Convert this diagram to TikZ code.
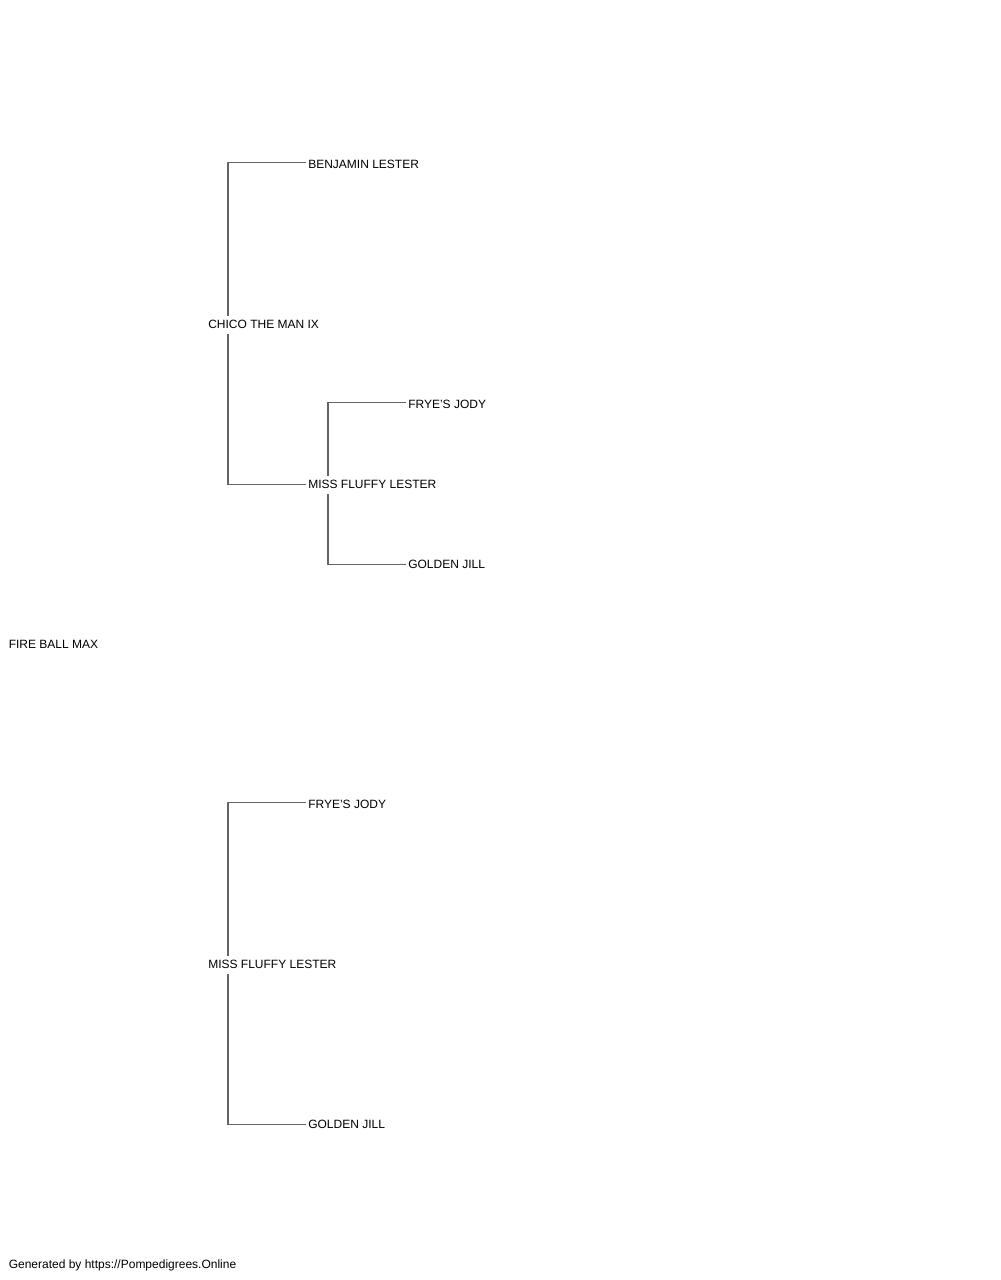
\documentclass[tikz,border=0pt]{standalone}
\usepackage{fontspec}
\setmainfont{Liberation Sans}
\begin{document}
\begin{tikzpicture}[x=0.75pt,y=-0.75pt,
  lbl/.style={anchor=west,inner xsep=1.5pt,inner ysep=0pt,text height=6.45pt,text depth=0pt,font=\fontsize{9pt}{11pt}\selectfont},
  conn/.style={draw={rgb,255:red,100;green,100;blue,100},line width=1.1pt}]
\useasboundingbox (0,0) rectangle (1000,1280);
\node[lbl] (fbm) at (6.5,644) {FIRE BALL MAX};
\node[lbl] (chico) at (206,324) {CHICO THE MAN IX};
\node[lbl] (benj) at (306,164) {BENJAMIN LESTER};
\node[lbl] (mfa) at (306,484) {MISS FLUFFY LESTER};
\node[lbl] (fja) at (406,404) {FRYE'S JODY};
\node[lbl] (gja) at (406,564) {GOLDEN JILL};
\node[lbl] (mfb) at (206,964) {MISS FLUFFY LESTER};
\node[lbl] (fjb) at (306,804) {FRYE'S JODY};
\node[lbl] (gjb) at (306,1124) {GOLDEN JILL};
\node[lbl] (foot) at (6.5,1264) {Generated by https://Pompedigrees.Online};
\draw[conn] ([shift={(22,-8)}]chico.west) |- ([yshift=1.3pt]benj.west);
\draw[conn] ([shift={(22,10)}]chico.west) |- ([yshift=-0.4pt]mfa.west);
\draw[conn] ([shift={(22,-8)}]mfa.west) |- ([yshift=1.3pt]fja.west);
\draw[conn] ([shift={(22,10)}]mfa.west) |- ([yshift=-0.4pt]gja.west);
\draw[conn] ([shift={(22,-8)}]mfb.west) |- ([yshift=1.3pt]fjb.west);
\draw[conn] ([shift={(22,10)}]mfb.west) |- ([yshift=-0.4pt]gjb.west);
\end{tikzpicture}
\end{document}
